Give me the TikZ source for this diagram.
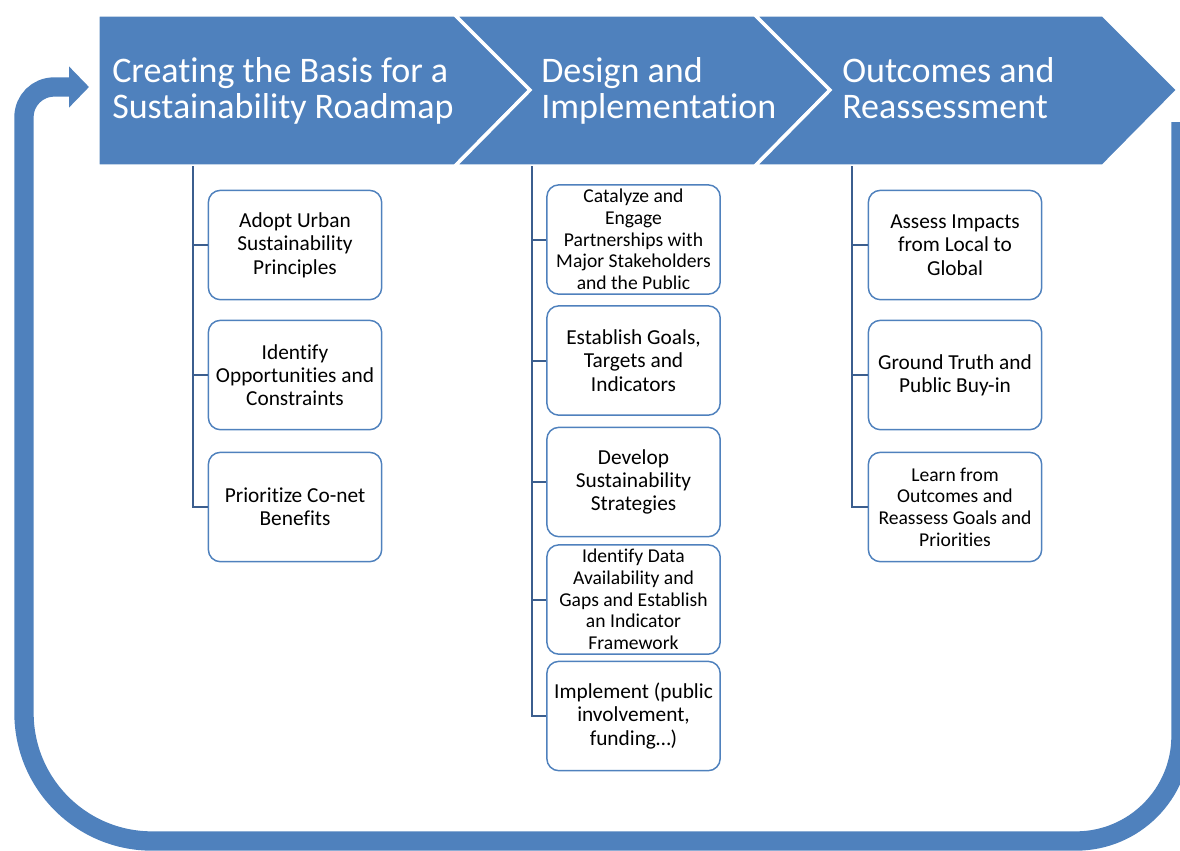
\documentclass[tikz,border=0pt]{standalone}
\usepackage{fontspec}
\setmainfont{Carlito}[Ligatures=NoCommon]
\usepackage{xcolor}
\usetikzlibrary{arrows.meta}

\definecolor{azul}{HTML}{4F81BD}
\definecolor{azuloscuro}{HTML}{3B5E8E}

\begin{document}
\begin{tikzpicture}[x=0.75pt, y=-0.75pt,
    fase/.style={fill=azul, draw=white, line width=2.6pt, line join=miter},
    titulo/.style={text=white, align=left, anchor=base west, inner sep=0pt, font=\fontsize{27}{27}\selectfont},
    caja/.style={draw=azul, line width=1.1pt, rounded corners=9pt, fill=white, minimum width=130pt, minimum height=82pt, align=center, inner sep=1pt, font=\fontsize{16}{17.5}\selectfont},
    cajita/.style={caja, font=\fontsize{14.7}{16.3}\selectfont},
    rama/.style={draw=azuloscuro, line width=1.5pt},
    lazo/.style={draw=azul, line width=14.5pt}]

    \useasboundingbox (0,0) rectangle (1180,850);
    \clip (0,0) rectangle (1180,850);

    % flecha de retorno
    \draw[lazo, -{Triangle[width=30pt, length=15pt]}] (1181,122) -- (1181,736)
        arc[start angle=0, end angle=-90, radius=78.75pt] -- (152,841)
        arc[start angle=-90, end angle=-180, radius=96pt] -- (24,117)
        arc[start angle=180, end angle=90, radius=22.5pt] -- (89,87);

    % fases
    \filldraw[fase] (98,15) -- (455,15) -- (530,90) -- (455,166) -- (98,166) -- cycle;
    \filldraw[fase] (455,15) -- (755,15) -- (830,90) -- (755,166) -- (455,166) -- (530,90) -- cycle;
    \filldraw[fase] (755,15) -- (1103,15) -- (1178,90) -- (1103,166) -- (755,166) -- (830,90) -- cycle;

    % la base del nodo queda en la segunda linea
    \node[titulo] (f1) at (112,118) {Creating the Basis for a\\Sustainability Roadmap};
    \node[titulo] (f2) at (541,118) {Design and\\Implementation};
    \node[titulo] (f3) at (842,118) {Outcomes and\\Reassessment};

    \coordinate (t1) at (193,166);
    \coordinate (t2) at (532,166);
    \coordinate (t3) at (852,166);

    % columna 1
    \node[caja] (b1) at (295,245) {Adopt Urban\\Sustainability\\Principles};
    \node[caja] (b2) at (295,375) {Identify\\Opportunities and\\Constraints};
    \node[caja] (b3) at (295,507) {Prioritize Co-net\\Benefits};

    % columna 2
    \node[cajita] (d1) at (633.5,239.5) {Catalyze and\\Engage\\Partnerships with\\Major Stakeholders\\and the Public};
    \node[caja] (d2) at (633.5,360.5) {Establish Goals,\\Targets and\\Indicators};
    \node[caja] (d3) at (633.5,482) {Develop\\Sustainability\\Strategies};
    \node[cajita] (d4) at (633.5,599.5) {Identify Data\\Availability and\\Gaps and Establish\\an Indicator\\Framework};
    \node[caja] (d5) at (633.5,716) {Implement (public\\involvement,\\funding…)};

    % columna 3
    \node[caja] (r1) at (955,245) {Assess Impacts\\from Local to\\Global};
    \node[caja] (r2) at (955,375) {Ground Truth and\\Public Buy-in};
    \node[cajita] (r3) at (955,507) {Learn from\\Outcomes and\\Reassess Goals and\\Priorities};

    % ramas
    \draw[rama] (t1) |- (b3.west);
    \draw[rama] (t2) |- (d5.west);
    \draw[rama] (t3) |- (r3.west);
    \foreach \n in {b1,b2}
        \draw[rama] (\n.west -| t1) -- (\n.west);
    \foreach \n in {d1,d2,d3,d4}
        \draw[rama] (\n.west -| t2) -- (\n.west);
    \foreach \n in {r1,r2}
        \draw[rama] (\n.west -| t3) -- (\n.west);
\end{tikzpicture}
\end{document}
